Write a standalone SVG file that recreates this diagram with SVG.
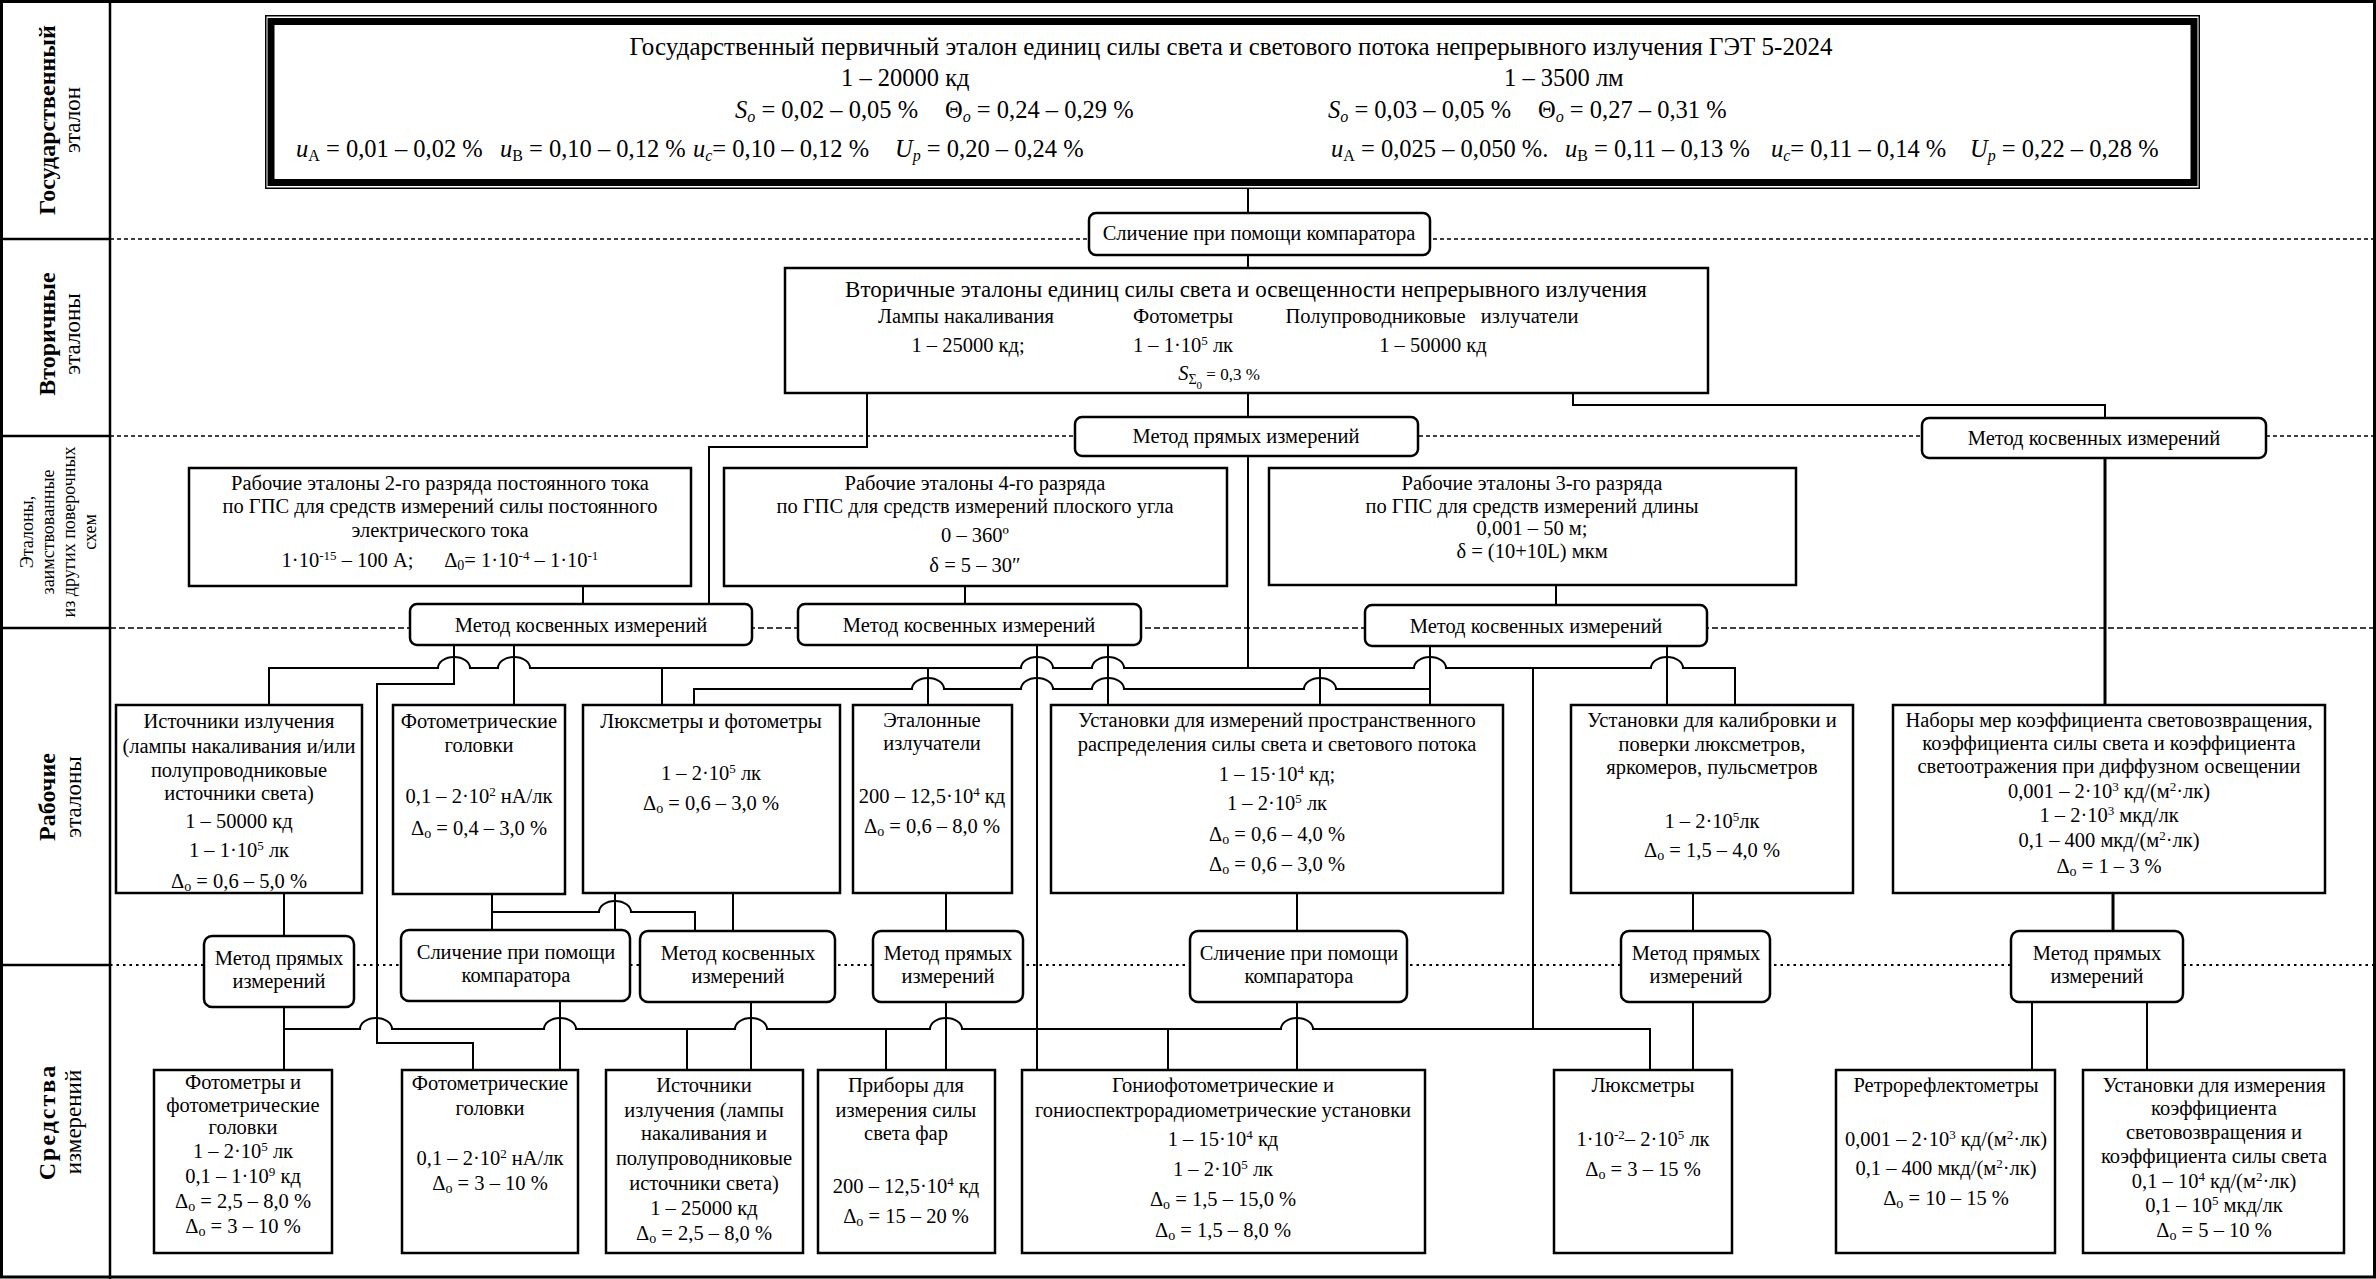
<svg xmlns="http://www.w3.org/2000/svg" width="2376" height="1279" viewBox="0 0 2376 1279">
<style>
.bg{fill:#fff}
.box{fill:#fff;stroke:#000;stroke-width:2.5}
.c{fill:none;stroke:#000;stroke-width:2}
.ck{fill:none;stroke:#000;stroke-width:3}
.sep{stroke:#000;stroke-width:1.6;stroke-dasharray:4 3}
.sep2{stroke:#000;stroke-width:1.6;stroke-dasharray:6 3}
.sep3{stroke:#000;stroke-width:2;stroke-dasharray:2.5 4}
.frame{fill:none;stroke:#000;stroke-width:3}
.ln{stroke:#000;stroke-width:2.5}
.t{font-family:"Liberation Serif","Times New Roman",serif;font-size:20.5px;fill:#000;text-anchor:middle}
.s{text-anchor:start}
.ttl{font-size:23px}
.ttl2{font-size:25px}
.n{font-size:24.5px}
.lab{font-size:23px}
.lb{font-weight:bold;font-size:24px}
.sm{font-size:18px}
.i{font-style:italic}
.sb{font-size:14px;baseline-shift:-3px}
.sp{font-size:13px;baseline-shift:super}
.sb2{font-size:16px;baseline-shift:-4px}
</style>
<rect class="bg" x="0" y="0" width="2376" height="1279"/>

<g id="grid">
<line class="sep" x1="110" y1="239" x2="2374" y2="239"/>
<line class="sep" x1="110" y1="436" x2="2374" y2="436"/>
<line class="sep2" x1="110" y1="628" x2="2374" y2="628"/>
<line class="sep3" x1="110" y1="965" x2="2374" y2="965"/>
<line class="ln" x1="0" y1="239" x2="110" y2="239"/>
<line class="ln" x1="0" y1="436" x2="110" y2="436"/>
<line class="ln" x1="0" y1="628" x2="110" y2="628"/>
<line class="ln" x1="0" y1="965" x2="110" y2="965"/>
<line class="ln" x1="110" y1="0" x2="110" y2="1279"/>
<rect class="frame" x="1.5" y="1.5" width="2373" height="1275.5"/>
</g>

<g id="row-labels">
<text class="t lab lb" transform="translate(55,120) rotate(-90)">Государственный</text>
<text class="t lab" transform="translate(80,120) rotate(-90)">эталон</text>
<text class="t lab lb" transform="translate(55,334) rotate(-90)">Вторичные</text>
<text class="t lab" transform="translate(80,334) rotate(-90)">эталоны</text>
<text class="t sm" transform="translate(33,532) rotate(-90)">Эталоны,</text>
<text class="t sm" transform="translate(54,532) rotate(-90)">заимствованные</text>
<text class="t sm" transform="translate(75,532) rotate(-90)">из других поверочных</text>
<text class="t sm" transform="translate(96,532) rotate(-90)">схем</text>
<text class="t lab lb" transform="translate(55,797) rotate(-90)">Рабочие</text>
<text class="t lab" transform="translate(81,797) rotate(-90)">эталоны</text>
<text class="t lab lb" transform="translate(55,1122) rotate(-90)" letter-spacing="2">Средства</text>
<text class="t lab" transform="translate(81,1122) rotate(-90)">измерений</text>
</g>

<g id="connectors">
<path class="c" d="M1248,189 V213 M1248,255 V268 M1248,393 V417"/>
<path class="c" d="M867,393 V447 H709 V604"/>
<path class="c" d="M1573,393 V405 H2105 V418"/>
<path class="c" d="M583,586 V604 M965,586 V604 M1556,585 V605"/>
<path class="ck" d="M2105,458 V705"/>
<path class="c" d="M1248,456 V668"/>
<path class="c" d="M269,705 V668 H438 A16 11 0 0 1 470,668 H498 A16 11 0 0 1 530,668 H1021 A16 11 0 0 1 1053,668 H1092 A16 11 0 0 1 1124,668 H1414 A16 11 0 0 1 1446,668 H1651 A16 11 0 0 1 1683,668 H1735 V705"/>
<path class="c" d="M662,668 V705 M928,668 V705 M1320,668 V705 M1533,668 V1029"/>
<path class="c" d="M694,705 V689 H912 A16 11 0 0 1 944,689 H1021 A16 11 0 0 1 1053,689 H1092 A16 11 0 0 1 1124,689 H1304 A16 11 0 0 1 1336,689 H1430"/>
<path class="c" d="M454,645 V684 H377 V1043 H473 V1070"/>
<path class="c" d="M514,645 V705 M1037,645 V1070 M1108,645 V705 M1430,646 V705 M1667,646 V705"/>
<path class="c" d="M284,893 V936 M492,894 V930 M615,893 V930 M733,893 V931 M946,893 V931 M1297,893 V931 M1693,893 V931"/>
<path class="c" d="M492,912 H599 A16 11 0 0 1 631,912 H695 V931"/>
<path class="ck" d="M2113,893 V931"/>
<path class="c" d="M284,1007 V1070"/>
<path class="c" d="M284,1029 H360 A16 11 0 0 1 392,1029 H544 A16 11 0 0 1 576,1029 H735 A16 11 0 0 1 767,1029 H930 A16 11 0 0 1 962,1029 H1281 A16 11 0 0 1 1313,1029 H1650 V1070"/>
<path class="c" d="M687,1029 V1070 M886,1029 V1070 M1168,1029 V1070"/>
<path class="c" d="M560,1001 V1070 M751,1002 V1070 M946,1002 V1070 M1297,1002 V1070 M1693,1002 V1070 M2032,1002 V1070 M2147,1002 V1070"/>
</g>

<g id="n-state">
<rect fill="#fff" stroke="#000" stroke-width="1.5" x="265.75" y="15.75" width="1933.5" height="172.5"/>
<rect fill="none" stroke="#000" stroke-width="7" x="271" y="21.5" width="1923" height="161"/>
<text class="t ttl2" x="1231" y="55">Государственный первичный эталон единиц силы света и светового потока непрерывного излучения ГЭТ 5-2024</text>
<text class="t n s" x="841" y="86">1 – 20000 кд</text>
<text class="t n s" x="1504" y="86">1 – 3500 лм</text>
<text class="t n s" x="735" y="118"><tspan class="i">S</tspan><tspan class="i sb2">o</tspan> = 0,02 – 0,05 %</text>
<text class="t n s" x="945" y="118">Θ<tspan class="i sb2">o</tspan> = 0,24 – 0,29 %</text>
<text class="t n s" x="1328" y="118"><tspan class="i">S</tspan><tspan class="i sb2">o</tspan> = 0,03 – 0,05 %</text>
<text class="t n s" x="1538" y="118">Θ<tspan class="i sb2">o</tspan> = 0,27 – 0,31 %</text>
<text class="t n s" x="296" y="157"><tspan class="i">u</tspan><tspan class="sb2">A</tspan> = 0,01 – 0,02 %</text>
<text class="t n s" x="500" y="157"><tspan class="i">u</tspan><tspan class="sb2">B</tspan> = 0,10 – 0,12 %</text>
<text class="t n s" x="693" y="157"><tspan class="i">u</tspan><tspan class="i sb2">c</tspan>= 0,10 – 0,12 %</text>
<text class="t n s" x="895" y="157"><tspan class="i">U</tspan><tspan class="i sb2">p</tspan> =  0,20 – 0,24 %</text>
<text class="t n s" x="1331" y="157"><tspan class="i">u</tspan><tspan class="sb2">A</tspan> = 0,025 – 0,050 %.</text>
<text class="t n s" x="1565" y="157"><tspan class="i">u</tspan><tspan class="sb2">B</tspan> = 0,11 – 0,13 %</text>
<text class="t n s" x="1771" y="157"><tspan class="i">u</tspan><tspan class="i sb2">c</tspan>= 0,11 – 0,14 %</text>
<text class="t n s" x="1970" y="157"><tspan class="i">U</tspan><tspan class="i sb2">p</tspan> = 0,22 – 0,28 %</text>
</g>

<g id="n-cmp-top">
<rect class="box" x="1089" y="213" width="341" height="42" rx="7"/>
<text class="t" x="1259" y="240">Сличение при помощи компаратора</text>
</g>

<g id="n-secondary">
<rect class="box" x="785" y="268" width="923" height="125" stroke-width="3"/>
<text class="t ttl" x="1246" y="297">Вторичные эталоны единиц силы света и освещенности непрерывного излучения</text>
<text class="t" x="966" y="323">Лампы накаливания</text>
<text class="t" x="1183" y="323">Фотометры</text>
<text class="t" x="1432" y="323" xml:space="preserve">Полупроводниковые   излучатели</text>
<text class="t" x="968" y="352">1 – 25000 кд;</text>
<text class="t" x="1183" y="352">1 – 1·10<tspan class="sp">5</tspan> лк</text>
<text class="t" x="1433" y="352">1 – 50000 кд</text>
<text class="t" x="1219" y="380"><tspan class="i">S</tspan><tspan font-size="14" baseline-shift="-4">Σ</tspan><tspan font-size="11" baseline-shift="-9">0</tspan><tspan font-size="17"> = 0,3 %</tspan></text>
</g>

<g id="n-direct-top">
<rect class="box" x="1075" y="417" width="343" height="39" rx="7"/>
<text class="t" x="1246" y="443">Метод прямых измерений</text>
</g>

<g id="n-indirect-right-top">
<rect class="box" x="1922" y="418" width="344" height="40" rx="7"/>
<text class="t" x="2094" y="445">Метод косвенных измерений</text>
</g>

<g id="n-b2">
<rect class="box" x="189" y="468" width="502" height="118"/>
<text class="t" x="440" y="490">Рабочие эталоны 2-го разряда постоянного тока</text>
<text class="t" x="440" y="513">по ГПС для средств измерений силы постоянного</text>
<text class="t" x="440" y="537">электрического тока</text>
<text class="t" x="440" y="567" xml:space="preserve">1·10<tspan class="sp">-15</tspan> – 100 А;      Δ<tspan class="sb">0</tspan>= 1·10<tspan class="sp">-4</tspan> – 1·10<tspan class="sp">-1</tspan></text>
</g>

<g id="n-b4">
<rect class="box" x="724" y="468" width="503" height="118"/>
<text class="t" x="975" y="490">Рабочие эталоны 4-го разряда</text>
<text class="t" x="975" y="513">по ГПС для средств измерений плоского угла</text>
<text class="t" x="975" y="542">0 – 360º</text>
<text class="t" x="975" y="572">δ = 5 – 30″</text>
</g>

<g id="n-b3">
<rect class="box" x="1269" y="468" width="527" height="117"/>
<text class="t" x="1532" y="490">Рабочие эталоны 3-го разряда</text>
<text class="t" x="1532" y="513">по ГПС для средств измерений длины</text>
<text class="t" x="1532" y="535">0,001 – 50 м;</text>
<text class="t" x="1532" y="558">δ = (10+10L) мкм</text>
</g>

<g id="n-ind-left">
<rect class="box" x="410" y="604" width="342" height="41" rx="7"/>
<text class="t" x="581" y="632">Метод косвенных измерений</text>
</g>
<g id="n-ind-mid">
<rect class="box" x="798" y="604" width="343" height="41" rx="7"/>
<text class="t" x="969" y="632">Метод косвенных измерений</text>
</g>
<g id="n-ind-right">
<rect class="box" x="1365" y="605" width="342" height="41" rx="7"/>
<text class="t" x="1536" y="633">Метод косвенных измерений</text>
</g>

<g id="n-w-sources">
<rect class="box" x="116" y="705" width="246" height="188"/>
<text class="t" x="239" y="728">Источники излучения</text>
<text class="t" x="239" y="753">(лампы накаливания и/или</text>
<text class="t" x="239" y="777">полупроводниковые</text>
<text class="t" x="239" y="800">источники света)</text>
<text class="t" x="239" y="828">1 – 50000 кд</text>
<text class="t" x="239" y="857">1 – 1·10<tspan class="sp">5</tspan> лк</text>
<text class="t" x="239" y="888">Δ<tspan class="sb">o</tspan> = 0,6 – 5,0 %</text>
</g>

<g id="n-w-heads">
<rect class="box" x="393" y="705" width="172" height="189"/>
<text class="t" x="479" y="728">Фотометрические</text>
<text class="t" x="479" y="752">головки</text>
<text class="t" x="479" y="803">0,1 – 2·10<tspan class="sp">2</tspan> нА/лк</text>
<text class="t" x="479" y="835">Δ<tspan class="sb">o</tspan> = 0,4 – 3,0 %</text>
</g>

<g id="n-w-luxphoto">
<rect class="box" x="583" y="705" width="257" height="188"/>
<text class="t" x="711" y="728">Люксметры и фотометры</text>
<text class="t" x="711" y="780">1 – 2·10<tspan class="sp">5</tspan> лк</text>
<text class="t" x="711" y="810">Δ<tspan class="sb">o</tspan> = 0,6 – 3,0 %</text>
</g>

<g id="n-w-emitters">
<rect class="box" x="853" y="705" width="159" height="188"/>
<text class="t" x="932" y="727">Эталонные</text>
<text class="t" x="932" y="750">излучатели</text>
<text class="t" x="932" y="803">200 – 12,5·10<tspan class="sp">4</tspan> кд</text>
<text class="t" x="932" y="833">Δ<tspan class="sb">o</tspan> = 0,6 – 8,0 %</text>
</g>

<g id="n-w-spatial">
<rect class="box" x="1051" y="705" width="452" height="188"/>
<text class="t" x="1277" y="727">Установки для измерений пространственного</text>
<text class="t" x="1277" y="751">распределения силы света и светового потока</text>
<text class="t" x="1277" y="781">1 – 15·10<tspan class="sp">4</tspan> кд;</text>
<text class="t" x="1277" y="810">1 – 2·10<tspan class="sp">5</tspan> лк</text>
<text class="t" x="1277" y="841">Δ<tspan class="sb">o</tspan> = 0,6 – 4,0 %</text>
<text class="t" x="1277" y="871">Δ<tspan class="sb">o</tspan> = 0,6 – 3,0 %</text>
</g>

<g id="n-w-calib">
<rect class="box" x="1571" y="705" width="282" height="188"/>
<text class="t" x="1712" y="727">Установки для калибровки и</text>
<text class="t" x="1712" y="751">поверки люксметров,</text>
<text class="t" x="1712" y="774">яркомеров, пульсметров</text>
<text class="t" x="1712" y="828">1 – 2·10<tspan class="sp">5</tspan>лк</text>
<text class="t" x="1712" y="857">Δ<tspan class="sb">o</tspan> = 1,5 – 4,0 %</text>
</g>

<g id="n-w-sets">
<rect class="box" x="1893" y="705" width="432" height="188"/>
<text class="t" x="2109" y="727">Наборы мер коэффициента световозвращения,</text>
<text class="t" x="2109" y="750">коэффициента силы света и коэффициента</text>
<text class="t" x="2109" y="773">светоотражения при диффузном освещении</text>
<text class="t" x="2109" y="798">0,001 – 2·10<tspan class="sp">3</tspan> кд/(м<tspan class="sp">2</tspan>·лк)</text>
<text class="t" x="2109" y="822">1 – 2·10<tspan class="sp">3</tspan> мкд/лк</text>
<text class="t" x="2109" y="847">0,1 – 400 мкд/(м<tspan class="sp">2</tspan>·лк)</text>
<text class="t" x="2109" y="873">Δ<tspan class="sb">o</tspan> = 1 – 3 %</text>
</g>

<g id="n-m-direct1">
<rect class="box" x="204" y="936" width="150" height="71" rx="8"/>
<text class="t" x="279" y="965">Метод прямых</text>
<text class="t" x="279" y="988">измерений</text>
</g>
<g id="n-m-cmp1">
<rect class="box" x="401" y="930" width="229" height="71" rx="8"/>
<text class="t" x="516" y="959">Сличение при помощи</text>
<text class="t" x="516" y="982">компаратора</text>
</g>
<g id="n-m-ind">
<rect class="box" x="640" y="931" width="195" height="71" rx="8"/>
<text class="t" x="738" y="960">Метод косвенных</text>
<text class="t" x="738" y="983">измерений</text>
</g>
<g id="n-m-direct2">
<rect class="box" x="873" y="931" width="150" height="71" rx="8"/>
<text class="t" x="948" y="960">Метод прямых</text>
<text class="t" x="948" y="983">измерений</text>
</g>
<g id="n-m-cmp2">
<rect class="box" x="1190" y="931" width="217" height="71" rx="8"/>
<text class="t" x="1299" y="960">Сличение при помощи</text>
<text class="t" x="1299" y="983">компаратора</text>
</g>
<g id="n-m-direct3">
<rect class="box" x="1621" y="931" width="149" height="71" rx="8"/>
<text class="t" x="1696" y="960">Метод прямых</text>
<text class="t" x="1696" y="983">измерений</text>
</g>
<g id="n-m-direct4">
<rect class="box" x="2011" y="931" width="172" height="71" rx="8"/>
<text class="t" x="2097" y="960">Метод прямых</text>
<text class="t" x="2097" y="983">измерений</text>
</g>

<g id="n-i-photometers">
<rect class="box" x="154" y="1070" width="178" height="183"/>
<text class="t" x="243" y="1089">Фотометры и</text>
<text class="t" x="243" y="1112">фотометрические</text>
<text class="t" x="243" y="1134">головки</text>
<text class="t" x="243" y="1158">1 – 2·10<tspan class="sp">5</tspan> лк</text>
<text class="t" x="243" y="1183">0,1 – 1·10<tspan class="sp">9</tspan> кд</text>
<text class="t" x="243" y="1208">Δ<tspan class="sb">o</tspan> = 2,5 – 8,0 %</text>
<text class="t" x="243" y="1233">Δ<tspan class="sb">o</tspan> = 3 – 10 %</text>
</g>
<g id="n-i-heads">
<rect class="box" x="402" y="1070" width="176" height="183"/>
<text class="t" x="490" y="1090">Фотометрические</text>
<text class="t" x="490" y="1115">головки</text>
<text class="t" x="490" y="1165">0,1 – 2·10<tspan class="sp">2</tspan> нА/лк</text>
<text class="t" x="490" y="1190">Δ<tspan class="sb">o</tspan> = 3 – 10 %</text>
</g>
<g id="n-i-sources">
<rect class="box" x="606" y="1070" width="197" height="183"/>
<text class="t" x="704" y="1092">Источники</text>
<text class="t" x="704" y="1117">излучения (лампы</text>
<text class="t" x="704" y="1140">накаливания и</text>
<text class="t" x="704" y="1165">полупроводниковые</text>
<text class="t" x="704" y="1190">источники света)</text>
<text class="t" x="704" y="1215">1 – 25000 кд</text>
<text class="t" x="704" y="1240">Δ<tspan class="sb">o</tspan> = 2,5 – 8,0 %</text>
</g>
<g id="n-i-headlamps">
<rect class="box" x="818" y="1070" width="177" height="183"/>
<text class="t" x="906" y="1092">Приборы для</text>
<text class="t" x="906" y="1117">измерения силы</text>
<text class="t" x="906" y="1140">света фар</text>
<text class="t" x="906" y="1193">200 – 12,5·10<tspan class="sp">4</tspan> кд</text>
<text class="t" x="906" y="1223">Δ<tspan class="sb">o</tspan> = 15 – 20 %</text>
</g>
<g id="n-i-gonio">
<rect class="box" x="1022" y="1070" width="403" height="183"/>
<text class="t" x="1223" y="1092">Гониофотометрические и</text>
<text class="t" x="1223" y="1117">гониоспектрорадиометрические установки</text>
<text class="t" x="1223" y="1146">1 – 15·10<tspan class="sp">4</tspan> кд</text>
<text class="t" x="1223" y="1176">1 – 2·10<tspan class="sp">5</tspan> лк</text>
<text class="t" x="1223" y="1206">Δ<tspan class="sb">o</tspan> = 1,5 – 15,0 %</text>
<text class="t" x="1223" y="1237">Δ<tspan class="sb">o</tspan> = 1,5 – 8,0 %</text>
</g>
<g id="n-i-luxmeters">
<rect class="box" x="1554" y="1070" width="178" height="183"/>
<text class="t" x="1643" y="1092">Люксметры</text>
<text class="t" x="1643" y="1146">1·10<tspan class="sp">-2</tspan>– 2·10<tspan class="sp">5</tspan> лк</text>
<text class="t" x="1643" y="1176">Δ<tspan class="sb">o</tspan> = 3 – 15 %</text>
</g>
<g id="n-i-retro">
<rect class="box" x="1836" y="1070" width="219" height="183"/>
<text class="t" x="1946" y="1092">Ретрорефлектометры</text>
<text class="t" x="1946" y="1146">0,001 – 2·10<tspan class="sp">3</tspan> кд/(м<tspan class="sp">2</tspan>·лк)</text>
<text class="t" x="1946" y="1175">0,1 – 400 мкд/(м<tspan class="sp">2</tspan>·лк)</text>
<text class="t" x="1946" y="1205">Δ<tspan class="sb">o</tspan> = 10 – 15 %</text>
</g>
<g id="n-i-coef">
<rect class="box" x="2083" y="1070" width="261" height="183"/>
<text class="t" x="2214" y="1092">Установки для измерения</text>
<text class="t" x="2214" y="1115">коэффициента</text>
<text class="t" x="2214" y="1139">световозвращения и</text>
<text class="t" x="2214" y="1163">коэффициента силы света</text>
<text class="t" x="2214" y="1188">0,1 – 10<tspan class="sp">4</tspan> кд/(м<tspan class="sp">2</tspan>·лк)</text>
<text class="t" x="2214" y="1212">0,1 – 10<tspan class="sp">5</tspan> мкд/лк</text>
<text class="t" x="2214" y="1237">Δ<tspan class="sb">o</tspan> = 5 – 10 %</text>
</g>
</svg>
